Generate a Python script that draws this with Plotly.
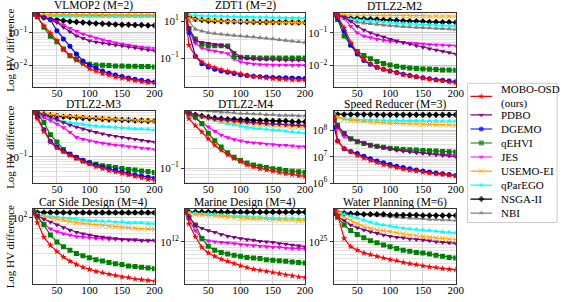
import math
import plotly.graph_objects as go

# ---------------- data (log10 of HV difference) ----------------
x_iter = [15, 20, 30, 40, 50, 60, 70, 80, 90, 100, 110, 120, 130, 140, 150, 160, 170, 180, 190, 200]

methods = ["MOBO-OSD<br>(ours)", "PDBO", "DGEMO", "qEHVI", "JES", "USEMO-EI", "qParEGO", "NSGA-II", "NBI"]
keys = ["osd", "pdbo", "dgemo", "qehvi", "jes", "usemo", "qparego", "nsga", "nbi"]
titles = ["VLMOP2 (M=2)", "ZDT1 (M=2)", "DTLZ2-M2", "DTLZ2-M3", "DTLZ2-M4",
          "Speed Reducer (M=3)", "Car Side Design (M=4)", "Marine Design (M=4)", "Water Planning (M=6)"]

vlmop2 = dict(
    osd=[-0.45, -0.55, -0.8, -1.03, -1.25, -1.52, -1.7, -1.84, -1.96, -2.09, -2.17, -2.24, -2.29, -2.34, -2.38, -2.42, -2.45, -2.48, -2.51, -2.53],
    pdbo=[-0.45, -0.47, -0.55, -0.62, -0.7, -0.85, -0.98, -1.1, -1.18, -1.25, -1.29, -1.32, -1.35, -1.38, -1.4, -1.43, -1.46, -1.5, -1.53, -1.55],
    dgemo=[-0.45, -0.47, -0.55, -0.62, -0.95, -1.2, -1.42, -1.65, -1.86, -1.99, -2.08, -2.16, -2.23, -2.28, -2.33, -2.37, -2.41, -2.44, -2.47, -2.49],
    qehvi=[-0.45, -0.52, -0.85, -1.12, -1.28, -1.5, -1.7, -1.8, -1.9, -1.96, -1.98, -1.99, -2.0, -2.01, -2.01, -2.02, -2.02, -2.03, -2.03, -2.04],
    jes=[-0.45, -0.48, -0.55, -0.62, -0.68, -0.78, -0.88, -0.97, -1.05, -1.11, -1.17, -1.22, -1.27, -1.31, -1.35, -1.38, -1.41, -1.44, -1.46, -1.48],
    usemo=[-0.46, -0.46, -0.46, -0.46, -0.46, -0.46, -0.46, -0.46, -0.47, -0.47, -0.47, -0.47, -0.47, -0.47, -0.47, -0.47, -0.47, -0.47, -0.47, -0.47],
    qparego=[-0.5, -0.51, -0.51, -0.51, -0.52, -0.52, -0.52, -0.52, -0.52, -0.52, -0.52, -0.53, -0.53, -0.53, -0.53, -0.53, -0.53, -0.53, -0.53, -0.53],
    nsga=[-0.45, -0.5, -0.55, -0.6, -0.62, -0.65, -0.67, -0.69, -0.7, -0.72, -0.73, -0.74, -0.75, -0.76, -0.77, -0.77, -0.78, -0.78, -0.79, -0.79],
    nbi=[-0.47, -0.47, -0.48, -0.48, -0.48, -0.48, -0.49, -0.49, -0.49, -0.49, -0.49, -0.49, -0.5, -0.5, -0.5, -0.5, -0.5, -0.5, -0.5, -0.5],
)
zdt1 = dict(
    osd=[1.35, -0.3, -0.9, -1.2, -1.39, -1.52, -1.62, -1.7, -1.78, -1.85, -1.93, -1.99, -2.04, -2.08, -2.11, -2.14, -2.16, -2.18, -2.19, -2.2],
    pdbo=[1.35, 0.6, -0.06, -0.15, -0.2, -0.25, -0.3, -0.4, -0.7, -0.95, -1.02, -1.05, -1.07, -1.08, -1.09, -1.1, -1.11, -1.12, -1.12, -1.13],
    dgemo=[1.3, 0.38, -0.9, -1.3, -1.48, -1.6, -1.7, -1.77, -1.84, -1.9, -1.94, -1.98, -2.01, -2.03, -2.05, -2.06, -2.07, -2.08, -2.09, -2.1],
    qehvi=[1.35, 0.6, 0.03, -0.25, -0.33, -0.33, -0.33, -0.34, -0.9, -0.95, -0.97, -0.98, -0.99, -1.0, -1.0, -1.0, -1.0, -1.0, -1.0, -1.0],
    jes=[1.35, 0.5, -0.2, -0.45, -0.55, -0.62, -0.68, -0.75, -1.05, -1.2, -1.28, -1.32, -1.35, -1.36, -1.37, -1.38, -1.38, -1.39, -1.39, -1.39],
    usemo=[1.3, 1.18, 1.12, 1.08, 1.05, 1.03, 1.01, 1.0, 0.99, 0.98, 0.97, 0.96, 0.95, 0.95, 0.94, 0.93, 0.93, 0.92, 0.92, 0.91],
    qparego=[1.36, 1.34, 1.32, 1.3, 1.29, 1.28, 1.27, 1.26, 1.25, 1.24, 1.23, 1.22, 1.21, 1.21, 1.2, 1.2, 1.19, 1.19, 1.18, 1.18],
    nsga=[1.35, 1.25, 1.12, 1.06, 1.03, 1.01, 1.0, 0.99, 0.98, 0.97, 0.97, 0.96, 0.96, 0.95, 0.95, 0.94, 0.94, 0.93, 0.93, 0.93],
    nbi=[1.35, 1.0, 0.56, 0.45, 0.38, 0.33, 0.29, 0.25, 0.22, 0.2, 0.17, 0.14, 0.11, 0.07, 0.03, 0.0, -0.04, -0.08, -0.12, -0.15],
)
dtlz2_m2 = dict(
    osd=[-0.42, -0.5, -0.85, -1.3, -1.6, -1.82, -1.96, -2.06, -2.12, -2.17, -2.23, -2.28, -2.32, -2.36, -2.39, -2.42, -2.45, -2.48, -2.51, -2.53],
    pdbo=[-0.42, -0.45, -0.52, -0.65, -0.8, -0.92, -1.0, -1.07, -1.13, -1.2, -1.25, -1.3, -1.35, -1.4, -1.45, -1.49, -1.53, -1.57, -1.61, -1.65],
    dgemo=[-0.42, -0.55, -0.95, -1.38, -1.65, -1.85, -1.97, -2.06, -2.12, -2.17, -2.22, -2.27, -2.31, -2.35, -2.38, -2.41, -2.44, -2.46, -2.48, -2.5],
    qehvi=[-0.42, -0.6, -1.1, -1.38, -1.58, -1.7, -1.8, -1.88, -1.94, -1.99, -2.03, -2.06, -2.08, -2.1, -2.11, -2.12, -2.13, -2.14, -2.14, -2.15],
    jes=[-0.42, -0.45, -0.55, -0.8, -1.0, -1.1, -1.15, -1.2, -1.23, -1.26, -1.28, -1.3, -1.32, -1.33, -1.35, -1.36, -1.37, -1.38, -1.39, -1.4],
    usemo=[-0.44, -0.45, -0.45, -0.46, -0.46, -0.46, -0.47, -0.47, -0.47, -0.47, -0.48, -0.48, -0.48, -0.48, -0.48, -0.49, -0.49, -0.49, -0.49, -0.49],
    qparego=[-0.42, -0.5, -0.56, -0.59, -0.6, -0.62, -0.64, -0.66, -0.68, -0.69, -0.71, -0.72, -0.73, -0.74, -0.75, -0.76, -0.77, -0.78, -0.78, -0.79],
    nsga=[-0.42, -0.48, -0.52, -0.55, -0.56, -0.58, -0.59, -0.6, -0.61, -0.62, -0.63, -0.64, -0.65, -0.65, -0.66, -0.67, -0.67, -0.68, -0.68, -0.69],
    nbi=[-0.42, -0.5, -0.58, -0.64, -0.68, -0.71, -0.73, -0.75, -0.77, -0.79, -0.8, -0.82, -0.83, -0.84, -0.85, -0.86, -0.87, -0.88, -0.89, -0.9],
)
dtlz2_m3 = dict(
    osd=[-0.1, -0.22, -0.48, -0.7, -0.82, -0.9, -0.97, -1.04, -1.1, -1.15, -1.2, -1.24, -1.28, -1.31, -1.34, -1.37, -1.4, -1.43, -1.46, -1.48],
    pdbo=[-0.08, -0.1, -0.14, -0.19, -0.24, -0.3, -0.35, -0.39, -0.43, -0.47, -0.5, -0.53, -0.56, -0.58, -0.6, -0.62, -0.64, -0.66, -0.68, -0.7],
    dgemo=[-0.1, -0.2, -0.45, -0.68, -0.8, -0.88, -0.95, -1.01, -1.07, -1.12, -1.17, -1.21, -1.25, -1.28, -1.31, -1.34, -1.37, -1.39, -1.41, -1.43],
    qehvi=[-0.08, -0.12, -0.3, -0.55, -0.7, -0.85, -0.95, -1.02, -1.08, -1.12, -1.15, -1.18, -1.2, -1.22, -1.24, -1.26, -1.27, -1.29, -1.3, -1.32],
    jes=[-0.08, -0.12, -0.2, -0.26, -0.33, -0.4, -0.5, -0.6, -0.64, -0.67, -0.7, -0.72, -0.74, -0.76, -0.77, -0.79, -0.8, -0.82, -0.83, -0.85],
    usemo=[-0.08, -0.1, -0.12, -0.14, -0.15, -0.16, -0.17, -0.18, -0.19, -0.2, -0.21, -0.22, -0.22, -0.23, -0.24, -0.24, -0.25, -0.26, -0.26, -0.27],
    qparego=[-0.08, -0.12, -0.18, -0.23, -0.26, -0.28, -0.3, -0.32, -0.34, -0.36, -0.37, -0.38, -0.39, -0.4, -0.41, -0.42, -0.43, -0.43, -0.44, -0.45],
    nsga=[-0.08, -0.1, -0.13, -0.15, -0.17, -0.18, -0.19, -0.2, -0.21, -0.22, -0.22, -0.23, -0.24, -0.24, -0.25, -0.25, -0.26, -0.26, -0.27, -0.27],
    nbi=[-0.08, -0.1, -0.13, -0.15, -0.16, -0.17, -0.18, -0.19, -0.2, -0.21, -0.21, -0.22, -0.23, -0.23, -0.24, -0.25, -0.25, -0.26, -0.26, -0.27],
)
dtlz2_m4 = dict(
    osd=[-0.12, -0.22, -0.33, -0.43, -0.54, -0.64, -0.72, -0.79, -0.85, -0.9, -0.95, -0.98, -1.01, -1.03, -1.05, -1.07, -1.09, -1.1, -1.12, -1.13],
    pdbo=[-0.1, -0.13, -0.16, -0.19, -0.21, -0.23, -0.24, -0.25, -0.26, -0.27, -0.28, -0.29, -0.29, -0.3, -0.31, -0.31, -0.32, -0.32, -0.33, -0.33],
    dgemo=None,
    qehvi=[-0.1, -0.15, -0.2, -0.3, -0.45, -0.57, -0.67, -0.76, -0.83, -0.88, -0.92, -0.95, -0.97, -0.99, -1.01, -1.02, -1.04, -1.05, -1.06, -1.07],
    jes=[-0.1, -0.15, -0.22, -0.28, -0.35, -0.42, -0.48, -0.52, -0.55, -0.57, -0.59, -0.6, -0.61, -0.62, -0.63, -0.64, -0.64, -0.65, -0.66, -0.66],
    usemo=[-0.1, -0.13, -0.17, -0.2, -0.22, -0.24, -0.26, -0.27, -0.28, -0.29, -0.3, -0.31, -0.32, -0.32, -0.33, -0.34, -0.34, -0.35, -0.35, -0.36],
    qparego=[-0.1, -0.14, -0.18, -0.2, -0.22, -0.25, -0.28, -0.3, -0.32, -0.34, -0.36, -0.37, -0.38, -0.39, -0.4, -0.41, -0.42, -0.43, -0.44, -0.45],
    nsga=[-0.1, -0.13, -0.16, -0.18, -0.2, -0.21, -0.22, -0.23, -0.23, -0.24, -0.24, -0.25, -0.25, -0.25, -0.26, -0.26, -0.26, -0.27, -0.27, -0.27],
    nbi=[-0.06, -0.07, -0.08, -0.09, -0.1, -0.11, -0.12, -0.12, -0.13, -0.14, -0.14, -0.15, -0.15, -0.16, -0.16, -0.17, -0.17, -0.17, -0.18, -0.18],
)
speed_reducer = dict(
    osd=[8.55, 7.6, 7.3, 7.18, 7.05, 6.95, 6.86, 6.77, 6.7, 6.64, 6.58, 6.53, 6.49, 6.45, 6.41, 6.38, 6.35, 6.32, 6.3, 6.27],
    pdbo=[8.4, 8.15, 7.9, 7.7, 7.6, 7.52, 7.45, 7.39, 7.35, 7.3, 7.26, 7.22, 7.19, 7.16, 7.13, 7.1, 7.08, 7.05, 7.03, 7.0],
    dgemo=[8.12, 7.6, 7.3, 7.2, 7.12, 7.02, 6.92, 6.84, 6.77, 6.7, 6.64, 6.59, 6.54, 6.5, 6.46, 6.42, 6.38, 6.35, 6.32, 6.29],
    qehvi=[8.4, 8.2, 7.88, 7.68, 7.57, 7.5, 7.44, 7.4, 7.36, 7.32, 7.3, 7.28, 7.27, 7.26, 7.24, 7.23, 7.22, 7.2, 7.19, 7.18],
    jes=[8.4, 8.1, 7.77, 7.65, 7.59, 7.52, 7.45, 7.39, 7.34, 7.29, 7.25, 7.22, 7.19, 7.16, 7.14, 7.12, 7.1, 7.09, 7.07, 7.06],
    usemo=[8.62, 8.5, 8.42, 8.38, 8.36, 8.34, 8.32, 8.31, 8.3, 8.28, 8.27, 8.26, 8.25, 8.24, 8.23, 8.23, 8.22, 8.21, 8.21, 8.2],
    qparego=[8.62, 8.5, 8.44, 8.42, 8.41, 8.4, 8.4, 8.39, 8.39, 8.38, 8.38, 8.38, 8.37, 8.37, 8.37, 8.37, 8.36, 8.36, 8.36, 8.36],
    nsga=[8.62, 8.61, 8.61, 8.61, 8.61, 8.61, 8.61, 8.6, 8.6, 8.6, 8.6, 8.6, 8.6, 8.6, 8.6, 8.6, 8.6, 8.6, 8.6, 8.6],
    nbi=None,
)
car_side = dict(
    osd=[2.05, 1.93, 1.72, 1.6, 1.51, 1.43, 1.37, 1.32, 1.28, 1.25, 1.22, 1.2, 1.18, 1.16, 1.14, 1.13, 1.11, 1.1, 1.09, 1.08],
    pdbo=[2.08, 2.03, 1.98, 1.94, 1.9, 1.86, 1.82, 1.79, 1.77, 1.75, 1.73, 1.72, 1.71, 1.7, 1.69, 1.68, 1.68, 1.67, 1.67, 1.67],
    dgemo=None,
    qehvi=[2.08, 2.02, 1.9, 1.75, 1.65, 1.58, 1.53, 1.48, 1.45, 1.42, 1.39, 1.37, 1.35, 1.33, 1.32, 1.3, 1.29, 1.28, 1.27, 1.26],
    jes=[2.08, 2.0, 1.92, 1.84, 1.8, 1.77, 1.75, 1.73, 1.72, 1.71, 1.7, 1.7, 1.69, 1.69, 1.68, 1.68, 1.68, 1.67, 1.67, 1.67],
    usemo=[2.08, 2.04, 2.02, 2.0, 1.99, 1.97, 1.95, 1.93, 1.92, 1.91, 1.9, 1.89, 1.88, 1.87, 1.86, 1.86, 1.85, 1.84, 1.84, 1.83],
    qparego=[2.08, 2.05, 2.03, 2.02, 2.01, 2.0, 1.99, 1.98, 1.97, 1.96, 1.96, 1.95, 1.95, 1.94, 1.94, 1.93, 1.93, 1.93, 1.92, 1.92],
    nsga=[2.09, 2.08, 2.08, 2.08, 2.08, 2.08, 2.08, 2.08, 2.08, 2.08, 2.08, 2.08, 2.08, 2.08, 2.08, 2.08, 2.08, 2.08, 2.08, 2.08],
    nbi=[2.09, 2.08, 2.08, 2.07, 2.07, 2.07, 2.07, 2.07, 2.06, 2.06, 2.06, 2.06, 2.06, 2.06, 2.06, 2.06, 2.06, 2.06, 2.06, 2.06],
)
marine = dict(
    osd=[12.56, 12.32, 12.09, 11.9, 11.8, 11.74, 11.69, 11.65, 11.61, 11.57, 11.54, 11.51, 11.49, 11.47, 11.45, 11.43, 11.41, 11.39, 11.37, 11.36],
    pdbo=[12.55, 12.44, 12.3, 12.24, 12.2, 12.17, 12.13, 12.1, 12.08, 12.06, 12.04, 12.03, 12.01, 12.0, 11.99, 11.97, 11.96, 11.94, 11.93, 11.91],
    dgemo=None,
    qehvi=[12.55, 12.44, 12.3, 12.06, 11.92, 11.85, 11.81, 11.78, 11.76, 11.74, 11.72, 11.71, 11.7, 11.68, 11.67, 11.66, 11.65, 11.64, 11.63, 11.62],
    jes=[12.55, 12.4, 12.2, 12.06, 12.02, 12.0, 11.99, 11.98, 11.97, 11.95, 11.94, 11.93, 11.92, 11.91, 11.9, 11.9, 11.89, 11.88, 11.88, 11.87],
    usemo=[12.55, 12.51, 12.49, 12.48, 12.47, 12.46, 12.45, 12.44, 12.43, 12.42, 12.42, 12.41, 12.41, 12.4, 12.4, 12.39, 12.39, 12.39, 12.38, 12.38],
    qparego=[12.55, 12.52, 12.51, 12.5, 12.5, 12.49, 12.48, 12.47, 12.46, 12.46, 12.45, 12.44, 12.44, 12.43, 12.43, 12.42, 12.42, 12.42, 12.41, 12.41],
    nsga=[12.54, 12.53, 12.53, 12.53, 12.53, 12.53, 12.53, 12.53, 12.53, 12.53, 12.53, 12.53, 12.53, 12.53, 12.53, 12.53, 12.53, 12.53, 12.53, 12.53],
    nbi=[12.54, 12.53, 12.53, 12.52, 12.52, 12.52, 12.52, 12.52, 12.52, 12.52, 12.52, 12.52, 12.52, 12.52, 12.52, 12.52, 12.52, 12.52, 12.52, 12.52],
)
water = dict(
    osd=[25.55, 25.48, 25.06, 24.91, 24.85, 24.8, 24.77, 24.74, 24.71, 24.68, 24.66, 24.63, 24.61, 24.59, 24.57, 24.55, 24.54, 24.52, 24.51, 24.5],
    pdbo=[25.55, 25.45, 25.38, 25.3, 25.25, 25.21, 25.18, 25.15, 25.12, 25.1, 25.08, 25.07, 25.05, 25.04, 25.03, 25.02, 25.0, 24.99, 24.98, 24.97],
    dgemo=None,
    qehvi=[25.55, 25.44, 25.3, 25.2, 25.13, 25.07, 25.02, 24.98, 24.94, 24.91, 24.88, 24.85, 24.83, 24.81, 24.8, 24.78, 24.76, 24.74, 24.72, 24.71],
    jes=None,
    usemo=[25.55, 25.5, 25.44, 25.38, 25.32, 25.27, 25.24, 25.21, 25.2, 25.18, 25.16, 25.14, 25.12, 25.11, 25.09, 25.08, 25.07, 25.06, 25.05, 25.04],
    qparego=[25.55, 25.52, 25.49, 25.46, 25.43, 25.39, 25.35, 25.32, 25.3, 25.28, 25.26, 25.24, 25.23, 25.22, 25.21, 25.2, 25.19, 25.18, 25.17, 25.16],
    nsga=[25.52, 25.5, 25.5, 25.5, 25.5, 25.49, 25.49, 25.49, 25.49, 25.48, 25.48, 25.48, 25.48, 25.48, 25.47, 25.47, 25.47, 25.47, 25.47, 25.47],
    nbi=[25.56, 25.55, 25.54, 25.52, 25.5, 25.49, 25.48, 25.47, 25.46, 25.45, 25.44, 25.43, 25.42, 25.42, 25.41, 25.4, 25.4, 25.39, 25.39, 25.38],
)
problems = [vlmop2, zdt1, dtlz2_m2, dtlz2_m3, dtlz2_m4, speed_reducer, car_side, marine, water]

# decade exponents that carry a tick label
label_exps = [[-2, -1], [-1, 1], [-2, -1], [-1], [-1], [6, 7, 8], [2], [12], [25]]

# ---------------- styling ----------------
colors = ["#ff0000", "#800080", "#0000ff", "#008000", "#ff00ff", "#ffa500", "#00ffff", "#000000", "#808080"]
symbols = ["star", "triangle-down", "circle", "square", "triangle-down", "x-thin-open", "triangle-up", "diamond", "triangle-up"]
msize = 5

W, H = 571, 302
col_px = [(34, 157), (188, 310), (339, 463)]
row_px = [(13, 89), (113, 187), (213, 290)]
title_y = [6, 106.5, 207]
log_ranges = [[-2.65, -0.41], [-2.58, 1.46], [-2.67, -0.39], [-1.54, -0.06], [-1.24, -0.097],
              [5.99, 8.75], [1.033, 2.133], [11.24, 12.59], [24.24, 25.59]]
minor_on = [True, False, True, True, True, True, True, True, True]
FONT = "Liberation Serif, Times New Roman, serif"


def marker_style(m, size):
    return dict(symbol=symbols[m], size=size, color=colors[m],
                line=dict(width=1 if "open" in symbols[m] else 0, color=colors[m]))


fig = go.Figure()
annotations = []
layout_axes = {}
for i, prob in enumerate(problems):
    r, c = divmod(i, 3)
    sx = "" if i == 0 else str(i + 1)
    x0, x1 = col_px[c]
    y0, y1 = row_px[r]
    lo, hi = log_ranges[i]
    for m in reversed(range(len(keys))):
        vals = prob.get(keys[m])
        if vals is None:
            continue
        fig.add_trace(go.Scatter(
            x=x_iter, y=[10 ** v for v in vals], mode="lines+markers",
            name=methods[m], showlegend=False, hoverinfo="skip",
            line=dict(color=colors[m], width=1.2),
            marker=marker_style(m, msize),
            xaxis="x" + sx, yaxis="y" + sx))
    dec_vals = [10.0 ** e for e in range(math.floor(lo), math.ceil(hi) + 1)]
    minor_vals = []
    if minor_on[i]:
        for e in range(math.floor(lo), math.ceil(hi) + 1):
            for k in range(2, 10):
                v = k * 10.0 ** e
                if lo <= math.log10(v) <= hi:
                    minor_vals.append(v)
    lab = label_exps[i]
    tickvals = [10.0 ** e for e in lab]
    ticktext = ["10<sup>%s</sup>" % (str(e).replace("-", "\u2212")) for e in lab]
    grid_only = [v for v in dec_vals if round(math.log10(v)) not in lab and lo <= math.log10(v) <= hi]
    layout_axes["xaxis" + sx] = dict(
        domain=[x0 / W, x1 / W], anchor="y" + sx, range=[14, 200],
        tickvals=[50, 100, 150, 200], ticks="", ticklabelstandoff=-4,
        showgrid=True, gridcolor="#d4d4d4", gridwidth=1,
        showline=True, linecolor="#333", linewidth=1, mirror=True, zeroline=False,
        tickfont=dict(family=FONT, size=11, color="black"))
    layout_axes["yaxis" + sx] = dict(
        domain=[1 - y1 / H, 1 - y0 / H], anchor="x" + sx, type="log", range=[lo, hi],
        tickvals=tickvals, ticktext=ticktext, ticks="outside", ticklen=3, tickcolor="#333",
        showgrid=True, gridcolor="#c8c8c8", gridwidth=1,
        minor=dict(tickvals=minor_vals + grid_only, showgrid=True, gridcolor="#e2e2e2", gridwidth=1, ticks=""),
        showline=True, linecolor="#333", linewidth=1, mirror=True, zeroline=False,
        tickfont=dict(family=FONT, size=11, color="black"))
    annotations.append(dict(text=titles[i], x=(x0 + x1) / 2 / W, y=1 - title_y[r] / H,
                            xref="paper", yref="paper", showarrow=False,
                            xanchor="center", yanchor="middle",
                            font=dict(family=FONT, size=11.5, color="black")))
    if c == 0:
        annotations.append(dict(text="Log HV difference", x=10 / W, y=1 - (y0 + y1) / 2 / H,
                                xref="paper", yref="paper", showarrow=False, textangle=-90,
                                xanchor="center", yanchor="middle",
                                font=dict(family=FONT, size=11, color="black")))

# ---------------- legend (drawn on its own pixel-like axis) ----------------
LG = (475, 566, 85, 227)  # left, right, top, bottom in px
lx = "x10"
ly = "y10"
layout_axes["xaxis10"] = dict(domain=[LG[0] / W, LG[1] / W], range=[LG[0], LG[1]], visible=False,
                              anchor="y10", fixedrange=True)
layout_axes["yaxis10"] = dict(domain=[1 - LG[3] / H, 1 - LG[2] / H], range=[LG[3], LG[2]], visible=False,
                              anchor="x10", fixedrange=True)
for m in range(len(methods)):
    yc = 98.3 if m == 0 else 117.3 + 14.3 * (m - 1)
    fig.add_trace(go.Scatter(x=[478, 489, 500], y=[yc, yc, yc], mode="lines+markers",
                             line=dict(color=colors[m], width=1.2),
                             marker=dict(symbol=symbols[m], size=[0, msize, 0], color=colors[m],
                                         line=dict(width=1 if "open" in symbols[m] else 0, color=colors[m])),
                             showlegend=False, hoverinfo="skip", xaxis=lx, yaxis=ly))
    annotations.append(dict(text=methods[m], x=507, y=yc, xref=lx, yref=ly, showarrow=False,
                            xanchor="left", yanchor="middle", align="left",
                            font=dict(family=FONT, size=11, color="black")))

shapes = [dict(type="rect", xref="paper", yref="paper", x0=LG[0] / W, x1=LG[1] / W,
               y0=1 - LG[3] / H, y1=1 - LG[2] / H, line=dict(color="#cccccc", width=1),
               fillcolor="rgba(0,0,0,0)", layer="below")]

fig.update_layout(
    width=W, height=H, margin=dict(l=0, r=0, t=0, b=0),
    paper_bgcolor="white", plot_bgcolor="white",
    font=dict(family=FONT, size=11, color="black"),
    annotations=annotations, shapes=shapes, showlegend=False,
    **layout_axes)

fig.write_html("out.html", config={"displayModeBar": False},
               post_script="document.body.style.margin='0px';")
